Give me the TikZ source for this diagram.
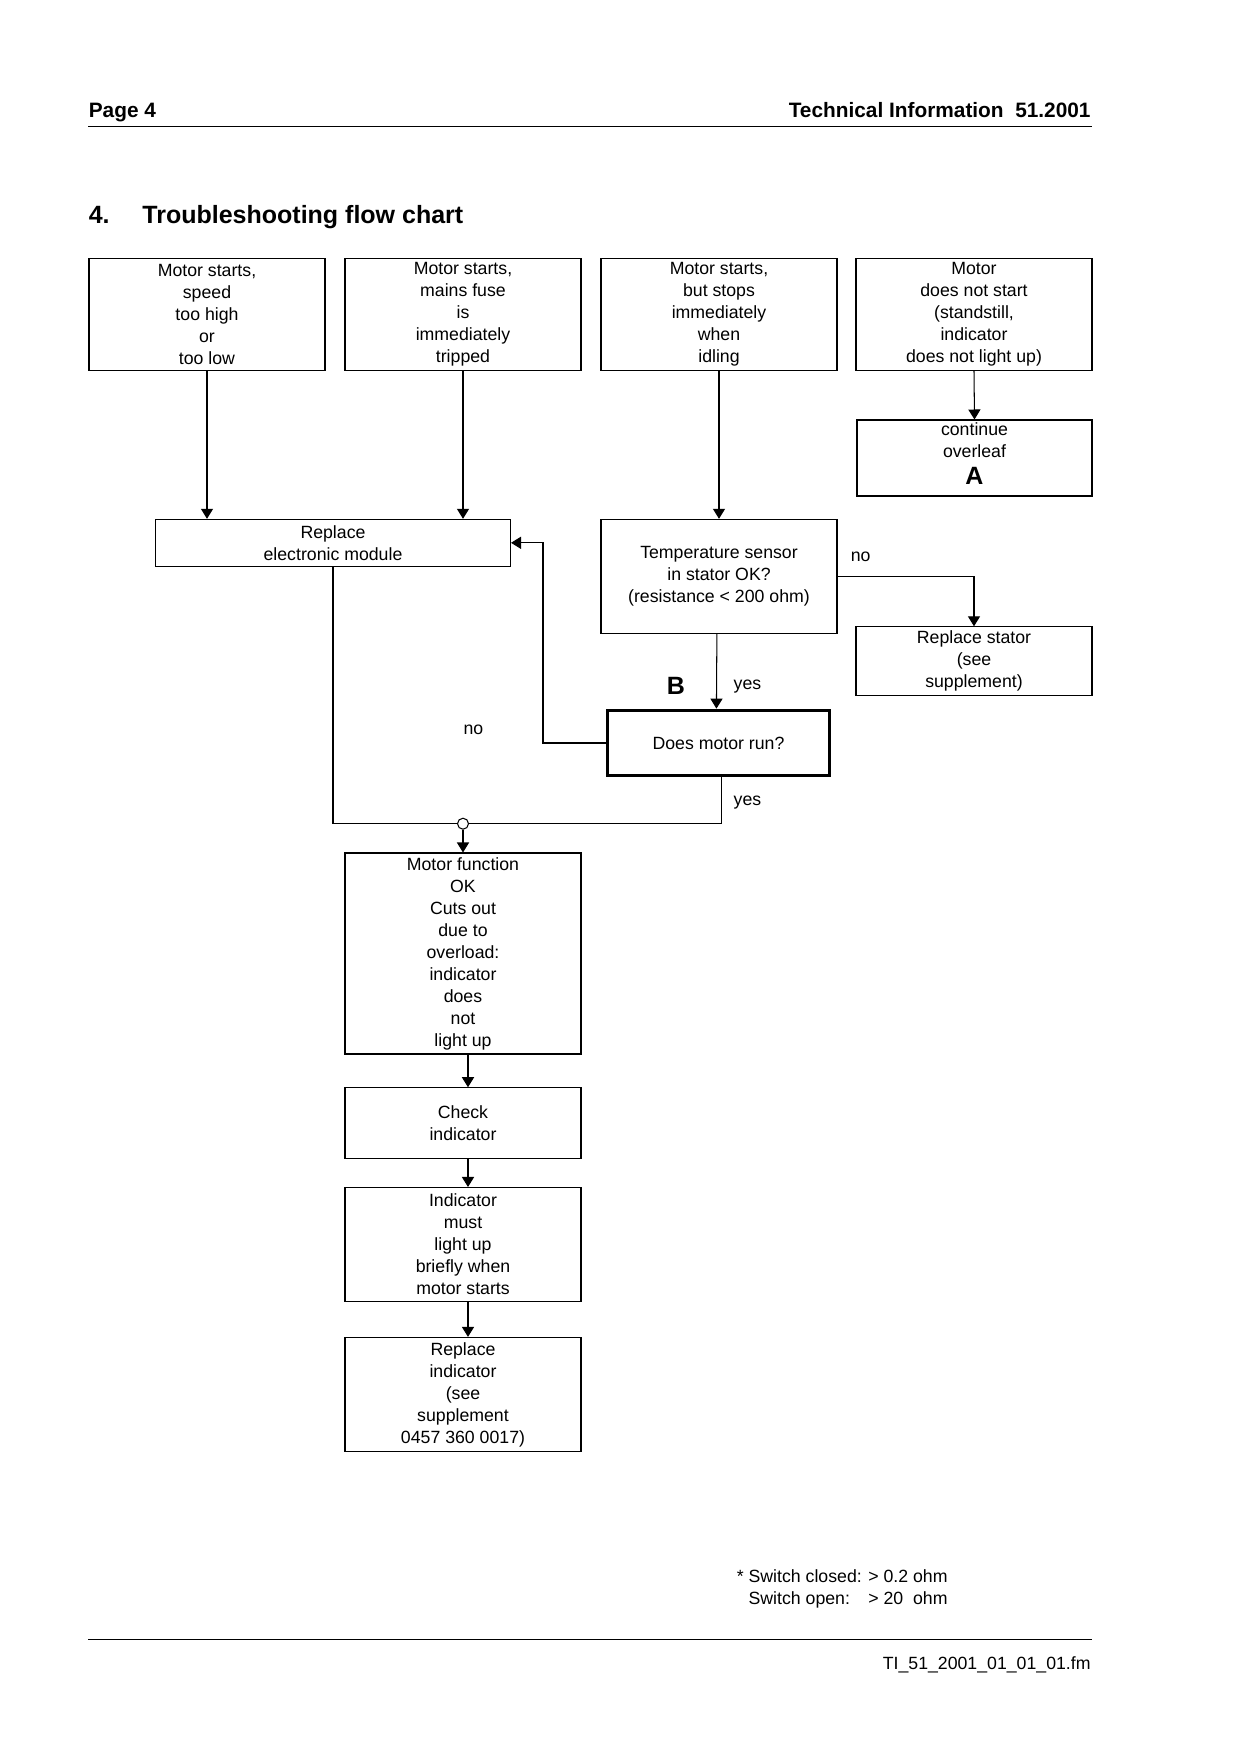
\documentclass[tikz,border=0pt]{standalone}
\usepackage{fontspec}
\setmainfont{Liberation Sans}
\usetikzlibrary{arrows.meta}
\def\pxu{0.48pt}
\begin{document}
\begin{tikzpicture}[x=0.48pt,y=-0.48pt,
  txt/.style={font=\fontsize{8.5}{10.56}\selectfont},
  bx/.style 2 args={draw, line width=0.5pt, align=center, inner sep=0pt, txt,
     minimum width=#1*\pxu, minimum height=#2*\pxu},
  ln/.style={line width=0.5pt},
  arr/.style={ln, -{Triangle[length=4.8pt,width=5.8pt]}},
  lbl/.style={txt, inner sep=0pt},
  big/.style={inner sep=0pt, font=\fontsize{12}{14}\selectfont\bfseries},
  hdr/.style={inner sep=0pt, font=\fontsize{10}{12}\selectfont\bfseries},
  rule/.style={line width=0.6pt}]
\path[use as bounding box, fill=white] (0,0) rectangle (1240,1755);

% header
\node[hdr, anchor=base west] (page) at (88.4,117) {Page 4};
\node[hdr, anchor=base east] (ti) at (1091,117) {Technical Information\ \ 51.2001};
\draw[rule] (88.4,126.5) -- (1092,126.5);
\node[big, anchor=base west] (num) at (88.4,223) {4.};
\node[big, anchor=base west] (title) at (142,223) {Troubleshooting flow chart};

% top row
\node[bx={236}{112}] (t1) at (207,314.5) {Motor starts,\\speed\\too high\\or\\too low};
\node[bx={236}{112}] (t2) at (463,314.5) {Motor starts,\\mains fuse\\is\\immediately\\tripped};
\node[bx={236}{112}] (t3) at (719,314.5) {Motor starts,\\but stops\\immediately\\when\\idling};
\node[bx={236}{112}] (t4) at (974,314.5) {Motor\\does not start\\(standstill,\\indicator\\does not light up)};

\node[bx={235}{76}] (cont) at (974.5,458) {};
\node[txt, align=center, inner sep=0pt] (contt) at (974.5,453.5) {continue\\overleaf\\[2pt]{\fontsize{12}{12}\selectfont\bfseries A}};

\node[bx={355}{47}] (repl) at (333,542.8) {Replace\\electronic module};
\node[bx={236}{114}] (temp) at (719,576.3) {Temperature sensor\\in stator OK?\\(resistance < 200 ohm)};
\node[bx={236}{69}] (stat) at (974,661.3) {Replace stator\\(see\\supplement)};
\node[bx={222}{65}, line width=1.8pt] (run) at (718.5,743) {Does motor run?};

\node[circle, draw, fill=white, inner sep=0pt, minimum size=11*\pxu, line width=0.5pt] (jc) at (463,823.7) {};

\node[bx={236}{201}] (mf) at (463,953.5) {Motor function\\OK\\Cuts out\\due to\\overload:\\indicator\\does\\not\\light up};
\node[bx={236}{70.5}] (chk) at (463,1123) {Check\\indicator};
\node[bx={236}{114}] (ind) at (463,1244.5) {Indicator\\must\\light up\\briefly when\\motor starts};
\node[bx={236}{114}] (repi) at (463,1394.4) {Replace\\indicator\\(see\\supplement\\0457 360 0017)};

% connectors
\draw[arr] (t1.south) -- (t1.south |- repl.north);
\draw[arr] (t2.south) -- (t2.south |- repl.north);
\draw[arr] (t3.south) -- (temp.north);
\draw[arr] (t4.south) -- (cont.north);
\draw[arr] (temp.east) -| (stat.north);
\draw[arr] ([xshift=-1pt]temp.south) -- ([xshift=-1pt]run.north);
\coordinate (nb) at (543,640);
\draw[arr] (run.west) -| (nb) |- (repl.east);
\draw[ln] (repl.south) |- (jc.west);
\draw[ln] ([xshift=1.5pt]run.south) |- (jc.east);
\draw[arr] (jc.south) -- (mf.north);
\draw[arr] ([xshift=2.4pt]mf.south) -- ([xshift=2.4pt]chk.north);
\draw[arr] ([xshift=2.4pt]chk.south) -- ([xshift=2.4pt]ind.north);
\draw[arr] ([xshift=2.4pt]ind.south) -- ([xshift=2.4pt]repi.north);

% labels
\node[lbl] (lno1) at (860.6,557) {no};
\node[big] (lb) at (676,686) {B};
\node[lbl] (lyes1) at (747.5,687) {yes};
\node[lbl] (lno2) at (473.4,729.5) {no};
\node[lbl] (lyes2) at (747.5,802.5) {yes};

% footnote
\node[txt, anchor=base west, inner sep=0pt] (fn) at (736.4,1582)
  {\begin{tabular}[t]{@{}l@{ }l@{}}* Switch closed: & > 0.2 ohm\\ \phantom{* }Switch open: & > 20\ \ ohm\end{tabular}};
\draw[rule] (88.4,1639.5) -- (1092,1639.5);
\node[txt, anchor=base east, inner sep=0pt] (foot) at (1091,1669) {TI\_51\_2001\_01\_01\_01.fm};
\end{tikzpicture}
\end{document}
